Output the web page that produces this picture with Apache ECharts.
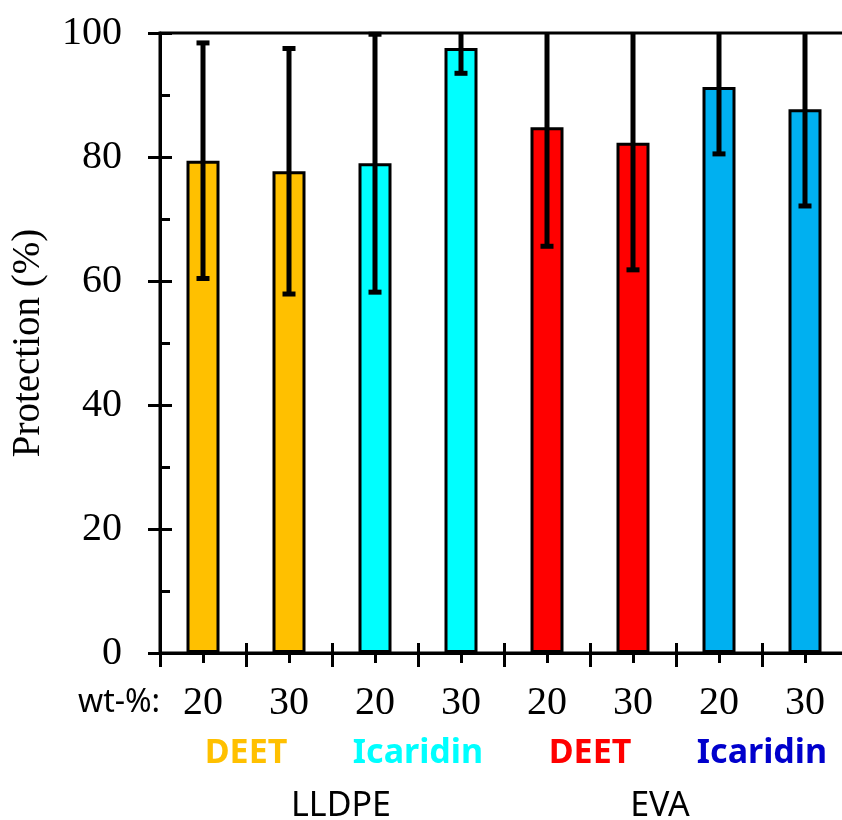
<!DOCTYPE html>
<html>
<head>
<meta charset="utf-8">
<script src="https://cdn.jsdelivr.net/npm/echarts@6/dist/echarts.min.js"></script>
<style>
  html, body { margin: 0; padding: 0; background: #fff; }
  #chart { width: 842px; height: 820px; }
</style>
</head>
<body>
<div id="chart"></div>
<script>
// wt-% loading per bar
const loadings = ['20', '30', '20', '30', '20', '30', '20', '30']
const repellents = ['DEET', 'Icaridin', 'DEET', 'Icaridin']
const polymers = ['LLDPE', 'EVA']
// mean protection (%) and standard deviation
const protection = [79.4, 77.7, 79.0, 97.6, 84.8, 82.3, 91.3, 87.7]
const deviation = [19.0, 19.8, 20.8, 4.1, 19.2, 20.5, 10.8, 15.6]
const yTicks = [0, 20, 40, 60, 80, 100]

const barColors = ['#FFC000', '#FFC000', '#00FFFF', '#00FFFF', '#FF0000', '#FF0000', '#00B0F0', '#00B0F0']
const labelColors = ['#FFC000', '#00FFFF', '#FF0000', '#0000CC']

const serif = "'Liberation Serif', 'Times New Roman', serif"
const sans = "'Noto Sans', 'Liberation Sans', sans-serif"

let myChart = echarts.init(document.getElementById('chart'))

const errData = protection.map((m, i) => [i, m - deviation[i], m + deviation[i]])

myChart.setOption({
  animation: false,
  grid: {
    left: 160,
    top: 33,
    width: 688,
    height: 620,
    outerBoundsMode: 'none',
    containLabel: false,
    show: true,
    borderColor: '#000',
    borderWidth: 3
  },
  graphic: [
    {
      type: 'text',
      x: 78,
      y: 703,
      style: { text: 'wt-%:', font: '32px ' + sans, fill: '#000', verticalAlign: 'middle' }
    }
  ],
  xAxis: [
    {
      type: 'category',
      position: 'bottom',
      data: loadings,
      axisLine: { lineStyle: { color: '#000', width: 3 } },
      axisTick: { show: true, inside: true, length: 10, lineStyle: { color: '#000', width: 3 } },
      axisLabel: { interval: 0, margin: 30, fontFamily: serif, fontSize: 40, lineHeight: 40, color: '#000' }
    },
    {
      type: 'category',
      position: 'bottom',
      data: loadings,
      axisLine: { show: false },
      axisTick: { show: true, length: 14, lineStyle: { color: '#000', width: 3 } },
      axisLabel: { show: false }
    },
    {
      type: 'category',
      position: 'bottom',
      data: loadings,
      axisLine: { show: false },
      axisTick: { show: true, alignWithLabel: true, length: 10, lineStyle: { color: '#000', width: 3 } },
      axisLabel: { show: false }
    },
    {
      type: 'category',
      position: 'bottom',
      data: repellents,
      axisLine: { show: false },
      axisTick: { show: false },
      axisLabel: {
        interval: 0,
        margin: 83,
        formatter: (v, i) => '{c' + i + '|' + v + '}',
        rich: {
          c0: { color: labelColors[0], fontFamily: sans, fontWeight: 'bold', fontSize: 34, lineHeight: 34 },
          c1: { color: labelColors[1], fontFamily: sans, fontWeight: 'bold', fontSize: 34, lineHeight: 34 },
          c2: { color: labelColors[2], fontFamily: sans, fontWeight: 'bold', fontSize: 34, lineHeight: 34 },
          c3: { color: labelColors[3], fontFamily: sans, fontWeight: 'bold', fontSize: 34, lineHeight: 34 }
        }
      }
    },
    {
      type: 'category',
      position: 'bottom',
      data: polymers,
      axisLine: { show: false },
      axisTick: { show: false },
      axisLabel: {
        interval: 0,
        margin: 136,
        formatter: (v, i) => '{p' + i + '|' + v + '}',
        rich: {
          p0: { color: '#000', fontFamily: sans, fontSize: 34, lineHeight: 34, padding: [0, 0, 0, 18] },
          p1: { color: '#000', fontFamily: sans, fontSize: 34, lineHeight: 34, padding: [0, 32, 0, 0] }
        }
      }
    }
  ],
  yAxis: [
    {
      type: 'value',
      position: 'left',
      min: yTicks[0],
      max: yTicks[yTicks.length - 1],
      interval: 20,
      name: 'Protection (%)',
      nameLocation: 'middle',
      nameRotate: 90,
      nameGap: 112,
      nameTextStyle: { fontFamily: serif, fontSize: 39, color: '#000' },
      splitLine: { show: false },
      axisLine: { show: true, lineStyle: { color: '#000', width: 3 } },
      axisTick: { show: true, inside: true, length: 12, lineStyle: { color: '#000', width: 3 } },
      minorTick: { show: true, splitNumber: 2, length: 10, lineStyle: { color: '#000', width: 3 } },
      axisLabel: { margin: 38, fontFamily: serif, fontSize: 40, color: '#000' }
    },
    {
      type: 'value',
      position: 'left',
      min: yTicks[0],
      max: yTicks[yTicks.length - 1],
      interval: 20,
      splitLine: { show: false },
      axisLine: { show: false },
      axisTick: { show: true, length: 12, lineStyle: { color: '#000', width: 3 } },
      axisLabel: { show: false }
    }
  ],
  series: [
    {
      type: 'bar',
      data: protection.map((v, i) => ({ value: v, itemStyle: { color: barColors[i] } })),
      barWidth: 33,
      itemStyle: { borderColor: '#000', borderWidth: 3 }
    },
    {
      type: 'custom',
      data: errData,
      z: 5,
      renderItem: (params, api) => {
        const x = api.value(0)
        const top = Math.min(api.value(2), yTicks[yTicks.length - 1])
        const lo = api.coord([x, api.value(1)])
        const hi = api.coord([x, top])
        const style = { stroke: '#000', lineWidth: 5 }
        const children = [
          { type: 'line', shape: { x1: lo[0], y1: lo[1], x2: hi[0], y2: hi[1] }, style },
          { type: 'line', shape: { x1: lo[0] - 6.5, y1: lo[1], x2: lo[0] + 6.5, y2: lo[1] }, style }
        ]
        if (api.value(2) <= yTicks[yTicks.length - 1]) {
          children.push({ type: 'line', shape: { x1: hi[0] - 6.5, y1: hi[1], x2: hi[0] + 6.5, y2: hi[1] }, style })
        }
        return { type: 'group', children }
      }
    }
  ]
})
</script>
</body>
</html>
